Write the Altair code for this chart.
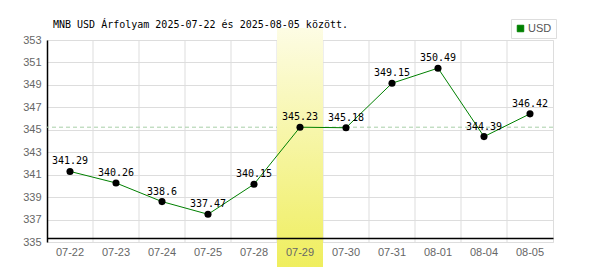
import altair as alt
import pandas as pd

# ---- data ----
dates = ["07-22", "07-23", "07-24", "07-25", "07-28", "07-29",
         "07-30", "07-31", "08-01", "08-04", "08-05"]
rates = [341.29, 340.26, 338.6, 337.47, 340.15, 345.23,
         345.18, 349.15, 350.49, 344.39, 346.42]
selected_date = "07-29"
reference_rate = 345.23
y_ticks = [335, 337, 339, 341, 343, 345, 347, 349, 351, 353]
series_name = "USD"
title_text = "MNB USD Árfolyam 2025-07-22 és 2025-08-05 között."

df = pd.DataFrame({"date": dates, "rate": rates, "series": [series_name] * len(dates)})
sel_df = pd.DataFrame({"date": [selected_date]})
ref_df = pd.DataFrame({"rate": [reference_rate]})
title_df = pd.DataFrame({"title": [title_text]})

W, H = 506, 202
x_scale = alt.Scale(domain=dates, paddingInner=0, paddingOuter=0)
y_scale = alt.Scale(domain=[y_ticks[0], y_ticks[-1]], nice=False, zero=False)

AXIS_FONT = "Liberation Sans"
MONO = "DejaVu Sans Mono"

x_axis = alt.Axis(grid=False, ticks=False, domainColor="#000000",
                  domainWidth=1.5, offset=-4, labelAngle=0,
                  labelPadding=8, labelFont=AXIS_FONT, labelFontSize=11,
                  labelColor="#666666", title=None, zindex=1)
y_axis = alt.Axis(values=y_ticks, grid=True, gridColor="#dddddd",
                  ticks=False, domainColor="#000000", domainWidth=1.5,
                  labelPadding=6, labelFont=AXIS_FONT, labelFontSize=11,
                  labelColor="#666666", title=None)


def X(**kw):
    return alt.X("date:N", scale=x_scale, axis=x_axis, **kw)


def Y():
    return alt.Y("rate:Q", scale=y_scale, axis=y_axis)


# vertical grid lines at band boundaries
vgrid = alt.Chart(df).transform_filter(alt.datum.date != dates[0]).mark_rule(
    color="#dddddd", strokeWidth=1
).encode(x=X(bandPosition=0))

# dashed reference line
ref_rule = alt.Chart(ref_df).mark_rule(
    color="#a8cfa8", strokeDash=[4, 3], strokeWidth=1
).encode(y=Y())

# highlighted day band with gradient
band = alt.Chart(sel_df).mark_rect(
    color=alt.Gradient(
        gradient="linear",
        stops=[alt.GradientStop(color="#fdfce4", offset=0),
               alt.GradientStop(color="#efee5e", offset=1)],
        x1=0, x2=0, y1=0, y2=1,
    )
).encode(
    x=X(),
    y=alt.value(-12),
    y2=alt.value(H + 25),
)

line = alt.Chart(df).mark_line(strokeWidth=1).encode(
    x=X(),
    y=Y(),
    color=alt.Color("series:N", scale=alt.Scale(range=["#008000"]),
                    legend=alt.Legend(title=None, orient="none", legendX=464,
                                      legendY=-21, symbolType="square",
                                      symbolSize=42, symbolFillColor="#008000",
                                      symbolStrokeColor="#777777",
                                      symbolStrokeWidth=1, strokeColor="#dddddd",
                                      padding=4, labelFont=AXIS_FONT,
                                      labelFontSize=11, labelColor="#555555",
                                      symbolOffset=0, labelOffset=2)),
)

points = alt.Chart(df).mark_point(filled=True, color="black", size=50, opacity=1).encode(
    x=X(), y=Y(),
)

labels = alt.Chart(df).mark_text(
    font=MONO, fontSize=10, color="black", baseline="alphabetic", dy=-7
).encode(
    x=X(), y=Y(),
    text=alt.Text("rate:Q"),
)

title = alt.Chart(title_df).mark_text(
    font=MONO, fontSize=10, color="black", align="left", baseline="alphabetic"
).encode(x=alt.value(6), y=alt.value(-12), text="title:N")

chart = alt.layer(vgrid, ref_rule, band, line, points, labels, title).properties(
    width=W, height=H,
    autosize=alt.AutoSizeParams(type="none"),
    padding={"left": 47, "top": 40, "right": 47, "bottom": 28},
).configure_view(stroke=None).configure(background="white")

chart.save("out.html", embed_options={"renderer": "svg", "actions": False})
